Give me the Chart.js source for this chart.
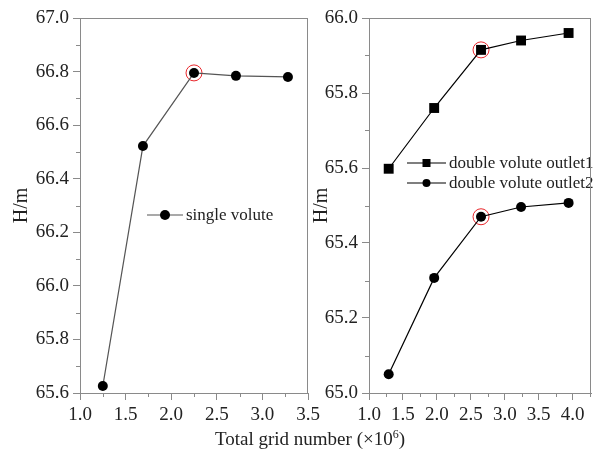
<!DOCTYPE html>
<html>
<head>
<meta charset="utf-8">
<script src="https://cdn.jsdelivr.net/npm/chart.js@4.4.1/dist/chart.umd.min.js"></script>
<style>
body { margin: 0; background: #fff; }
#wrap { position: relative; width: 600px; height: 450px; overflow: hidden; }
#wrap canvas { position: absolute; top: 0; }
#xtitle { position: absolute; left: 0; width: 620px; top: 427px; text-align: center;
  font: 19px "Liberation Serif", serif; color: #222; }
#xtitle sup { font-size: 12px; }
</style>
</head>
<body>
<div id="wrap">
  <canvas id="chartSingle" width="330" height="450" style="left:0"></canvas>
  <canvas id="chartDouble" width="300" height="450" style="left:300px"></canvas>
  <div id="xtitle">Total grid number (×10<sup>6</sup>)</div>
</div>
<script>
/* grid study data: total grid number (x10^6) vs head H (m) */
var gridSingle = [1.25, 1.69, 2.25, 2.71, 3.28];
var headSingle = [65.626, 66.522, 66.795, 66.784, 66.780];

var gridDouble = [1.29, 1.96, 2.65, 3.24, 3.94];
var headOutlet1 = [65.598, 65.760, 65.915, 65.940, 65.960];
var headOutlet2 = [65.050, 65.307, 65.470, 65.496, 65.507];

/* the grid that was chosen (circled in red) */
var chosenSingle = 2;
var chosenDouble = 2;

var serif = '"Liberation Serif", "Times New Roman", serif';
var axisGray = '#8a8a8a';

function pts(xs, ys) {
  var out = [];
  for (let i = 0; i < xs.length; i++) {
    out.push({x: xs[i], y: ys[i]});
  }
  return out;
}

/* minor ticks + top/right frame lines */
const frameAndMinor = {
  id: 'frameAndMinor',
  afterDraw(chart) {
    var ctx = chart.ctx;
    var a = chart.chartArea;
    ctx.save();
    ctx.strokeStyle = axisGray;
    ctx.lineWidth = 1;
    ctx.beginPath();
    ctx.moveTo(a.left, a.top + 0.5);
    ctx.lineTo(a.right, a.top + 0.5);
    ctx.moveTo(a.right - 0.5, a.top);
    ctx.lineTo(a.right - 0.5, a.bottom);
    ctx.stroke();
    var xs = chart.scales.x, ys = chart.scales.y;
    var mx = chart.options.plugins.frameAndMinor.minorX;
    var my = chart.options.plugins.frameAndMinor.minorY;
    ctx.beginPath();
    for (let v = xs.min + mx; v < xs.max; v += 2 * mx) {
      var px = Math.round(xs.getPixelForValue(v)) + 0.5;
      ctx.moveTo(px, a.bottom);
      ctx.lineTo(px, a.bottom + 4);
    }
    for (let v = ys.min + my; v < ys.max; v += 2 * my) {
      var py = Math.round(ys.getPixelForValue(v)) + 0.5;
      ctx.moveTo(a.left, py);
      ctx.lineTo(a.left - 4, py);
    }
    ctx.stroke();
    ctx.restore();
  }
};

/* legend drawn inside the plot area */
const innerLegend = {
  id: 'innerLegend',
  afterDatasetsDraw(chart) {
    var o = chart.options.plugins.innerLegend;
    var ctx = chart.ctx;
    var a = chart.chartArea;
    ctx.save();
    o.items.forEach(function(idx, k) {
      var ds = chart.data.datasets[idx];
      var x0 = a.left + o.x, y = a.top + o.y + k * o.gap;
      ctx.strokeStyle = ds.borderColor;
      ctx.lineWidth = ds.borderWidth;
      ctx.beginPath();
      ctx.moveTo(x0, y);
      ctx.lineTo(x0 + o.lineLen, y);
      ctx.stroke();
      ctx.fillStyle = ds.pointBackgroundColor;
      var cx = x0 + o.lineLen / 2, r = o.markR;
      if (ds.pointStyle === 'rect') {
        ctx.fillRect(cx - r, y - r, 2 * r, 2 * r);
      } else {
        ctx.beginPath();
        ctx.arc(cx, y, r, 0, Math.PI * 2);
        ctx.fill();
      }
      ctx.fillStyle = '#222';
      ctx.font = o.fontSize + 'px ' + serif;
      ctx.textBaseline = 'middle';
      ctx.fillText(ds.label, x0 + o.lineLen + 3, y + 1);
    });
    ctx.restore();
  }
};

function axes(xMin, xMax, yMin, yMax, yWidth) {
  var tickFont = {family: serif, size: 19};
  return {
    x: {
      type: 'linear', min: xMin, max: xMax,
      border: {color: axisGray},
      grid: {drawOnChartArea: false, color: axisGray, tickLength: 7},
      ticks: {stepSize: 0.5, includeBounds: false, color: '#222', font: tickFont, padding: 4,
        maxRotation: 0, callback: v => v.toFixed(1)},
      afterFit: s => { s.height = 57; }
    },
    y: {
      min: yMin, max: yMax,
      border: {color: axisGray},
      grid: {drawOnChartArea: false, color: axisGray, tickLength: 7},
      ticks: {stepSize: 0.2, color: '#222', font: tickFont, padding: 4, callback: v => v.toFixed(1)},
      title: {display: true, text: 'H/m', color: '#222', font: {family: serif, size: 20},
        padding: {top: 10, bottom: 0}},
      afterFit: s => { s.width = yWidth; }
    }
  };
}

function ring(x, y) {
  return {
    label: 'chosen', data: [{x: x, y: y}], showLine: false,
    pointRadius: 8, pointBorderColor: '#e8262b', pointBackgroundColor: 'rgba(0,0,0,0)',
    pointBorderWidth: 1, pointHoverRadius: 8
  };
}

new Chart(document.getElementById('chartSingle'), {
  type: 'scatter',
  data: {
    datasets: [
      {
        label: 'single volute', data: pts(gridSingle, headSingle), showLine: true,
        borderColor: '#555', borderWidth: 1.2, pointStyle: 'circle', pointRadius: 5,
        pointBackgroundColor: '#000', pointBorderColor: '#000', pointBorderWidth: 0
      },
      ring(gridSingle[chosenSingle], headSingle[chosenSingle])
    ]
  },
  options: {
    responsive: false, devicePixelRatio: 1, animation: false,
    layout: {padding: {top: 18, right: 22, left: 0, bottom: 0}},
    scales: axes(1.0, 3.5, 65.6, 67.0, 80),
    plugins: {
      legend: {display: false}, tooltip: {enabled: false},
      frameAndMinor: {minorX: 0.25, minorY: 0.1},
      innerLegend: {items: [0], x: 67, y: 197, gap: 20, lineLen: 36, markR: 5, fontSize: 17}
    }
  },
  plugins: [frameAndMinor, innerLegend]
});

new Chart(document.getElementById('chartDouble'), {
  type: 'scatter',
  data: {
    datasets: [
      {
        label: 'double volute outlet1', data: pts(gridDouble, headOutlet1), showLine: true,
        borderColor: '#000', borderWidth: 1.2, pointStyle: 'rect', pointRadius: 7,
        pointBackgroundColor: '#000', pointBorderColor: '#000', pointBorderWidth: 0
      },
      {
        label: 'double volute outlet2', data: pts(gridDouble, headOutlet2), showLine: true,
        borderColor: '#000', borderWidth: 1.2, pointStyle: 'circle', pointRadius: 5,
        pointBackgroundColor: '#000', pointBorderColor: '#000', pointBorderWidth: 0
      },
      ring(gridDouble[chosenDouble], headOutlet1[chosenDouble]),
      ring(gridDouble[chosenDouble], headOutlet2[chosenDouble])
    ]
  },
  options: {
    responsive: false, devicePixelRatio: 1, animation: false,
    layout: {padding: {top: 18, right: 3, left: 0, bottom: 0}},
    scales: axes(1.0, 4.27, 65.0, 66.0, 69),
    plugins: {
      legend: {display: false}, tooltip: {enabled: false},
      frameAndMinor: {minorX: 0.25, minorY: 0.1},
      innerLegend: {items: [0, 1], x: 38, y: 145, gap: 20, lineLen: 39, markR: 4, fontSize: 17}
    }
  },
  plugins: [frameAndMinor, innerLegend]
});
</script>
</body>
</html>
